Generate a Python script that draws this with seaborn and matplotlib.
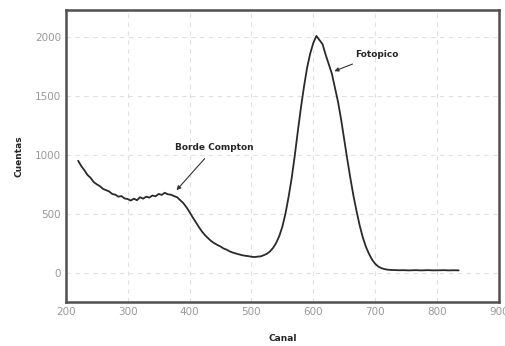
import matplotlib
matplotlib.use('Agg')
import matplotlib.pyplot as plt
import numpy as np
import pandas as pd
import seaborn as sns
from matplotlib.ticker import MultipleLocator

# Spectrum (channel step 5, from 220 to 835)
channels = np.arange(220, 840, 5)
counts = [950, 905, 870, 830, 805, 770, 750, 735, 712, 700,
          690, 668, 662, 645, 650, 630, 625, 612, 628, 615,
          640, 628, 645, 637, 655, 648, 668, 660, 678, 665,
          662, 650, 640, 615, 590, 555, 515, 470, 430, 388,
          350, 318, 292, 268, 250, 235, 222, 205, 195, 180,
          170, 162, 155, 148, 143, 140, 135, 132, 136, 138,
          148, 160, 180, 210, 252, 310, 390, 500, 640, 800,
          990, 1200, 1400, 1580, 1740, 1860, 1950, 2010, 1975, 1940,
          1850, 1770, 1690, 1570, 1450, 1300, 1130, 960, 800, 650,
          520, 400, 300, 220, 160, 110, 75, 52, 38, 30,
          25, 23, 22, 21, 20, 21, 20, 19, 20, 21,
          20, 19, 20, 21, 20, 19, 20, 20, 21, 20,
          19, 20, 20, 19]

df = pd.DataFrame({'canal': channels, 'cuentas': counts})

sns.set_style('white')
fig = plt.figure(figsize=(5.06, 3.46), dpi=100)
ax = fig.add_axes([0.130, 0.127, 0.856, 0.844])

sns.lineplot(data=df, x='canal', y='cuentas', ax=ax, color='#2a2a2a', linewidth=1.3)

ax.set_xlim(200, 900)
ax.set_ylim(-250, 2230)
ax.xaxis.set_major_locator(MultipleLocator(100))
ax.xaxis.set_minor_locator(MultipleLocator(50))
ax.yaxis.set_major_locator(MultipleLocator(500))
ax.yaxis.set_minor_locator(MultipleLocator(250))
ax.tick_params(which='major', direction='in', length=5, width=1.2, color='#444444',
               labelsize=7.5, labelcolor='#999999')
ax.tick_params(which='minor', direction='in', length=3, width=1.0, color='#444444')
ax.grid(True, which='major', linestyle=(0, (4, 4)), color='#e0e0e0', linewidth=0.8)

for s in ax.spines.values():
    s.set_color('#505050')
    s.set_linewidth(1.8)

ax.set_xlabel('Canal', fontsize=6.5, fontweight='bold', labelpad=12)
ax.set_ylabel('Cuentas', fontsize=6.5, fontweight='bold', labelpad=8)

ax.annotate('Borde Compton', xy=(379, 700), xytext=(440, 1060),
            fontsize=6.5, fontweight='bold', ha='center', va='center',
            arrowprops=dict(arrowstyle='-|>', color='#333333', lw=0.8,
                            shrinkA=3, shrinkB=0, mutation_scale=6))
ax.annotate('Fotopico', xy=(634, 1711), xytext=(702, 1850),
            fontsize=6.5, fontweight='bold', ha='center', va='center',
            arrowprops=dict(arrowstyle='-|>', color='#333333', lw=0.8,
                            shrinkA=3, shrinkB=0, mutation_scale=6))

fig.savefig('out.png', dpi=100)
